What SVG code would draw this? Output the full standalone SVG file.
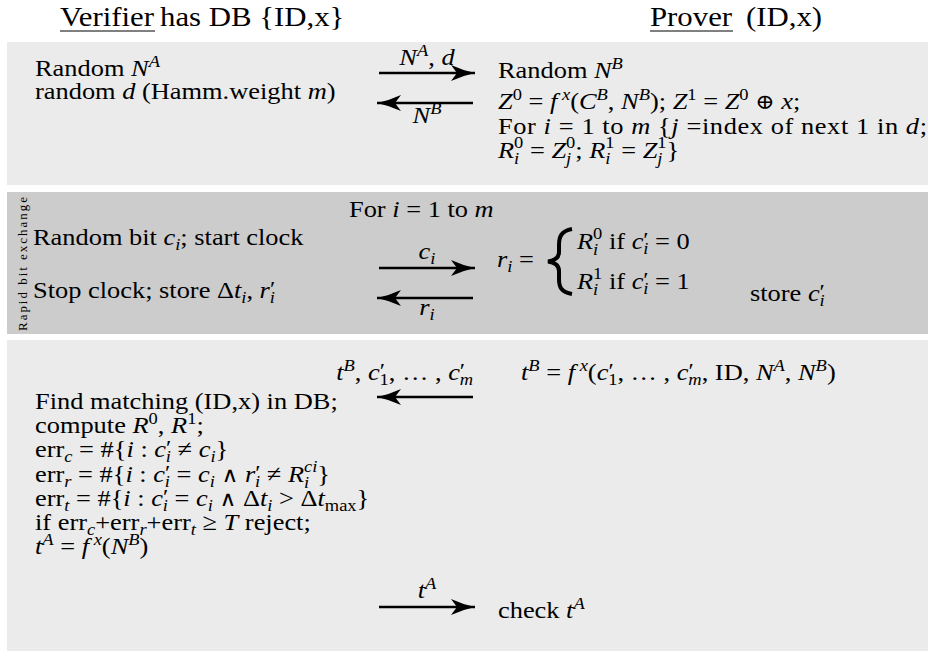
<svg xmlns="http://www.w3.org/2000/svg" width="930" height="654" viewBox="0 0 930 654">
<defs>
<style>
.t{font-family:"Liberation Serif","Times New Roman",serif;font-size:24px;fill:#000}
.h{font-size:28px}
.i{font-style:italic}
.s{font-size:16.8px}
.p{font-size:22px}
.m{font-family:"DejaVu Serif",serif;font-size:21px}
.r{font-size:13px}
.c{text-anchor:middle}
.e{text-anchor:end}
.panel1{fill:#ebebeb}
.panel2{fill:#cccccc}
.arrow{stroke:#000;stroke-width:2.4;fill:none;marker-end:url(#ah)}
.ul{stroke:#000;stroke-width:1}
</style>
<marker id="ah" viewBox="0 0 24 16" refX="24" refY="8" markerWidth="24" markerHeight="16" markerUnits="userSpaceOnUse" orient="auto">
<path d="M24,8 Q12,5.5 0,0 L6,8 L0,16 Q12,10.5 24,8 Z" fill="#000"/>
</marker>
</defs>
<rect width="930" height="654" fill="#fff"/>

<g id="verifier-header">
<g transform="scale(1.1,1)"><text class="t h" x="54.55" y="26">Verifier</text><text class="t h" x="145.5" y="26">has DB {ID,x}</text></g>
<line class="ul" x1="60" y1="31" x2="155" y2="31"/>
</g>
<g id="prover-header">
<g transform="scale(1.1,1)"><text class="t h" x="590.91" y="26">Prover</text><text class="t h" x="678.2" y="26">(ID,x)</text></g>
<line class="ul" x1="650" y1="31" x2="733" y2="31"/>
</g>

<g id="phase-setup">
<rect class="panel1" x="7" y="42" width="921" height="143"/>
<g transform="scale(1.1,1)">
<text class="t" x="31.82" y="76">Random <tspan class="i">N</tspan><tspan class="s i" dy="-9">A</tspan></text>
<text class="t" x="31.82" y="99">random <tspan class="i">d</tspan> (Hamm.weight <tspan class="i">m</tspan>)</text>
<text class="t" x="452.73" y="78">Random <tspan class="i">N</tspan><tspan class="s i" dy="-9">B</tspan></text>
<text class="t" x="452.73" y="109"><tspan class="i">Z</tspan><tspan class="s" dy="-9">0</tspan><tspan dy="9"> = </tspan><tspan class="i">f</tspan><tspan class="s i" dy="-9"> x</tspan><tspan dy="9">(</tspan><tspan class="i">C</tspan><tspan class="s i" dy="-9">B</tspan><tspan dy="9">, </tspan><tspan class="i">N</tspan><tspan class="s i" dy="-9">B</tspan><tspan dy="9">);  </tspan><tspan class="i">Z</tspan><tspan class="s" dy="-9">1</tspan><tspan dy="9"> = </tspan><tspan class="i">Z</tspan><tspan class="s" dy="-9">0</tspan><tspan dy="9"> </tspan><tspan class="m">⊕</tspan> <tspan class="i">x</tspan>;</text>
<text class="t" x="452.73" y="134" textLength="390" lengthAdjust="spacing">For <tspan class="i">i</tspan> = 1 to <tspan class="i">m</tspan> {<tspan class="i">j</tspan> =index of next 1 in <tspan class="i">d</tspan>;</text>
<text class="t" x="452.73" y="158"><tspan class="i">R</tspan><tspan class="s i" dy="6">i</tspan><tspan class="s" dx="-4.7" dy="-16">0</tspan><tspan dy="10"> = </tspan><tspan class="i">Z</tspan><tspan class="s i" dy="6">j</tspan><tspan class="s" dx="-4.7" dy="-16">0</tspan><tspan dy="10">; </tspan><tspan class="i">R</tspan><tspan class="s i" dy="6">i</tspan><tspan class="s" dx="-4.7" dy="-16">1</tspan><tspan dy="10"> = </tspan><tspan class="i">Z</tspan><tspan class="s i" dy="6">j</tspan><tspan class="s" dx="-4.7" dy="-16">1</tspan><tspan dy="10">}</tspan></text>
</g>
</g>

<g id="phase-rapid">
<rect class="panel2" x="7" y="192" width="921" height="142"/>
<text class="t r" transform="translate(27,331) rotate(-90)" textLength="134" lengthAdjust="spacing">Rapid bit exchange</text>
<path d="M572,229 C561,231 559,237 559,245 L559,252 C559,258 555,260.5 548,261.5 C555,262.5 559,265 559,271 L559,279 C559,287 561,292 572,294" fill="none" stroke="#000" stroke-width="4"/>
<g transform="scale(1.1,1)">
<text class="t" x="317.27" y="217">For <tspan class="i">i</tspan> = 1 to <tspan class="i">m</tspan></text>
<text class="t" x="30" y="245">Random bit <tspan class="i">c</tspan><tspan class="s i" dy="5">i</tspan><tspan dy="-5">; start clock</tspan></text>
<text class="t" x="30" y="298">Stop clock; store Δ<tspan class="i">t</tspan><tspan class="s i" dy="5">i</tspan><tspan dy="-5">, </tspan><tspan class="i">r</tspan><tspan class="p" dy="-2">′</tspan><tspan class="s i" dx="-5" dy="7">i</tspan></text>
<text class="t" x="451.82" y="267"><tspan class="i">r</tspan><tspan class="s i" dy="5">i</tspan><tspan dy="-5"> =</tspan></text>
<text class="t" x="524.55" y="249"><tspan class="i">R</tspan><tspan class="s i" dy="6">i</tspan><tspan class="s" dx="-4.7" dy="-16">0</tspan><tspan dy="10"> if </tspan><tspan class="i">c</tspan><tspan class="p" dy="-2">′</tspan><tspan class="s i" dx="-5" dy="7">i</tspan><tspan dy="-5"> = 0</tspan></text>
<text class="t" x="524.55" y="289"><tspan class="i">R</tspan><tspan class="s i" dy="6">i</tspan><tspan class="s" dx="-4.7" dy="-16">1</tspan><tspan dy="10"> if </tspan><tspan class="i">c</tspan><tspan class="p" dy="-2">′</tspan><tspan class="s i" dx="-5" dy="7">i</tspan><tspan dy="-5"> = 1</tspan></text>
<text class="t" x="681.82" y="301">store <tspan class="i">c</tspan><tspan class="p" dy="-2">′</tspan><tspan class="s i" dx="-5" dy="7">i</tspan></text>
</g>
</g>

<g id="phase-verify">
<rect class="panel1" x="7" y="340" width="921" height="311"/>
<g transform="scale(1.1,1)">
<text class="t" x="473.64" y="380"><tspan class="i">t</tspan><tspan class="s i" dy="-9">B</tspan><tspan dy="9"> = </tspan><tspan class="i">f</tspan><tspan class="s i" dy="-9"> x</tspan><tspan dy="9">(</tspan><tspan class="i">c</tspan><tspan class="p" dy="-2">′</tspan><tspan class="s" dx="-5" dy="7">1</tspan><tspan dy="-5">, … , </tspan><tspan class="i">c</tspan><tspan class="p" dy="-2">′</tspan><tspan class="s i" dx="-5" dy="7">m</tspan><tspan dy="-5">, ID, </tspan><tspan class="i">N</tspan><tspan class="s i" dy="-9">A</tspan><tspan dy="9">, </tspan><tspan class="i">N</tspan><tspan class="s i" dy="-9">B</tspan><tspan dy="9">)</tspan></text>
<text class="t" x="31.82" y="409">Find matching (ID,x) in DB;</text>
<text class="t" x="31.82" y="433">compute <tspan class="i">R</tspan><tspan class="s" dy="-9">0</tspan><tspan dy="9">, </tspan><tspan class="i">R</tspan><tspan class="s" dy="-9">1</tspan><tspan dy="9">;</tspan></text>
<text class="t" x="31.82" y="457">err<tspan class="s i" dy="5">c</tspan><tspan dy="-5"> = #{</tspan><tspan class="i">i</tspan> : <tspan class="i">c</tspan><tspan class="p" dy="-2">′</tspan><tspan class="s i" dx="-5" dy="7">i</tspan><tspan dy="-5"> ≠ </tspan><tspan class="i">c</tspan><tspan class="s i" dy="5">i</tspan><tspan dy="-5">}</tspan></text>
<text class="t" x="31.82" y="482">err<tspan class="s i" dy="5">r</tspan><tspan dy="-5"> = #{</tspan><tspan class="i">i</tspan> : <tspan class="i">c</tspan><tspan class="p" dy="-2">′</tspan><tspan class="s i" dx="-5" dy="7">i</tspan><tspan dy="-5"> = </tspan><tspan class="i">c</tspan><tspan class="s i" dy="5">i</tspan><tspan dy="-5"> </tspan><tspan class="m">∧</tspan> <tspan class="i">r</tspan><tspan class="p" dy="-2">′</tspan><tspan class="s i" dx="-5" dy="7">i</tspan><tspan dy="-5"> ≠ </tspan><tspan class="i">R</tspan><tspan class="s i" dy="6">i</tspan><tspan class="s i" dx="-4.7" dy="-16">ci</tspan><tspan dy="10">}</tspan></text>
<text class="t" x="31.82" y="506">err<tspan class="s i" dy="5">t</tspan><tspan dy="-5"> = #{</tspan><tspan class="i">i</tspan> : <tspan class="i">c</tspan><tspan class="p" dy="-2">′</tspan><tspan class="s i" dx="-5" dy="7">i</tspan><tspan dy="-5"> = </tspan><tspan class="i">c</tspan><tspan class="s i" dy="5">i</tspan><tspan dy="-5"> </tspan><tspan class="m">∧</tspan> Δ<tspan class="i">t</tspan><tspan class="s i" dy="5">i</tspan><tspan dy="-5"> &gt; Δ</tspan><tspan class="i">t</tspan><tspan class="s" dy="5">max</tspan><tspan dy="-5">}</tspan></text>
<text class="t" x="31.82" y="530">if err<tspan class="s i" dy="5">c</tspan><tspan dy="-5">+err</tspan><tspan class="s i" dy="5">r</tspan><tspan dy="-5">+err</tspan><tspan class="s i" dy="5">t</tspan><tspan dy="-5"> ≥ </tspan><tspan class="i">T</tspan> reject;</text>
<text class="t" x="31.82" y="554"><tspan class="i">t</tspan><tspan class="s i" dy="-9">A</tspan><tspan dy="9"> = </tspan><tspan class="i">f</tspan><tspan class="s i" dy="-9"> x</tspan><tspan dy="9">(</tspan><tspan class="i">N</tspan><tspan class="s i" dy="-9">B</tspan><tspan dy="9">)</tspan></text>
<text class="t" x="452.73" y="618">check <tspan class="i">t</tspan><tspan class="s i" dy="-9">A</tspan></text>
</g>
</g>

<g id="connectors">
<line class="arrow" x1="379" y1="73" x2="475" y2="73"/>
<line class="arrow" x1="473" y1="103" x2="377" y2="103"/>
<line class="arrow" x1="379" y1="268" x2="475" y2="268"/>
<line class="arrow" x1="473" y1="298" x2="377" y2="298"/>
<line class="arrow" x1="473" y1="397" x2="377" y2="397"/>
<line class="arrow" x1="379" y1="607" x2="475" y2="607"/>
<g transform="scale(1.1,1)">
<text class="t c" x="388.18" y="65"><tspan class="i">N</tspan><tspan class="s i" dy="-9">A</tspan><tspan dy="9">, </tspan><tspan class="i">d</tspan></text>
<text class="t c" x="388.18" y="123"><tspan class="i">N</tspan><tspan class="s i" dy="-9">B</tspan></text>
<text class="t c" x="388.18" y="259"><tspan class="i">c</tspan><tspan class="s i" dy="5">i</tspan></text>
<text class="t c" x="388.18" y="315"><tspan class="i">r</tspan><tspan class="s i" dy="5">i</tspan></text>
<text class="t e" x="430" y="380"><tspan class="i">t</tspan><tspan class="s i" dy="-9">B</tspan><tspan dy="9">, </tspan><tspan class="i">c</tspan><tspan class="p" dy="-2">′</tspan><tspan class="s" dx="-5" dy="7">1</tspan><tspan dy="-5">, … , </tspan><tspan class="i">c</tspan><tspan class="p" dy="-2">′</tspan><tspan class="s i" dx="-5" dy="7">m</tspan></text>
<text class="t c" x="388.18" y="598"><tspan class="i">t</tspan><tspan class="s i" dy="-9">A</tspan></text>
</g>
</g>
</svg>
